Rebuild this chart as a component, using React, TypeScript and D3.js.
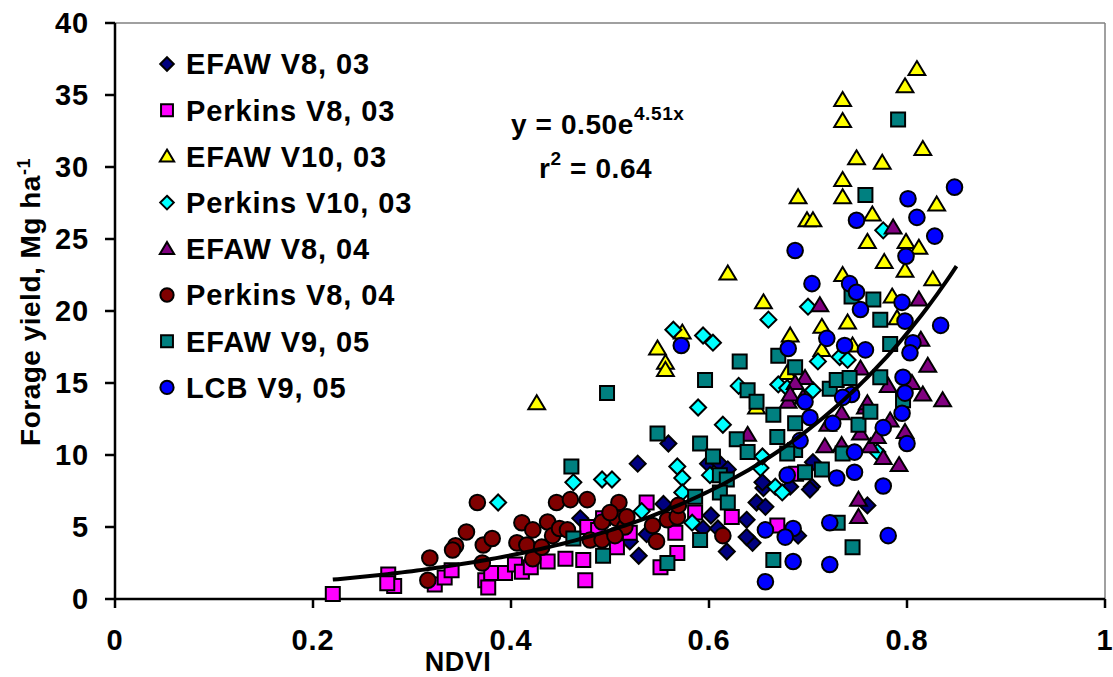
import React from 'react';
import * as d3 from 'd3';

type P = [number, number];

const efawV8_03: P[] = [[0.470,5.6],[0.528,9.4],[0.520,4.0],[0.529,3.0],[0.559,10.8],[0.599,9.4],[0.611,9.4],[0.602,5.8],[0.594,4.9],[0.618,3.3],[0.537,4.5],[0.554,6.6],[0.638,5.5],[0.644,3.9],[0.648,6.7],[0.655,7.7],[0.657,6.4],[0.638,4.3],[0.619,9.0],[0.682,7.8],[0.704,7.8],[0.609,4.9],[0.760,6.5],[0.690,4.4],[0.654,8.1],[0.705,9.5],[0.702,7.6]];

const perkinsV8_03: P[] = [[0.220,0.35],[0.276,1.7],[0.282,0.9],[0.275,1.1],[0.323,1.0],[0.333,1.5],[0.340,2.0],[0.374,1.3],[0.377,0.8],[0.380,1.8],[0.394,1.8],[0.404,2.4],[0.411,1.9],[0.420,2.2],[0.437,2.6],[0.455,2.8],[0.473,2.7],[0.475,1.3],[0.477,5.0],[0.488,4.8],[0.493,5.6],[0.507,3.6],[0.520,4.6],[0.537,6.7],[0.566,4.6],[0.568,3.2],[0.551,2.2],[0.586,6.0],[0.623,5.7],[0.669,5.1],[0.688,8.7]];

const efawV10_03: P[] = [[0.426,13.6],[0.548,17.4],[0.556,16.4],[0.556,15.9],[0.573,18.5],[0.619,22.6],[0.655,20.6],[0.648,13.3],[0.679,15.7],[0.690,27.9],[0.699,26.3],[0.705,26.3],[0.735,29.1],[0.735,27.9],[0.735,34.65],[0.735,33.2],[0.749,30.6],[0.775,30.3],[0.798,35.6],[0.810,36.8],[0.816,31.25],[0.760,24.8],[0.765,26.7],[0.830,27.4],[0.735,22.5],[0.740,19.2],[0.714,18.9],[0.682,18.3],[0.714,17.3],[0.745,17.6],[0.799,24.8],[0.777,23.4],[0.798,22.8],[0.785,21.0],[0.790,19.5],[0.826,22.2],[0.812,24.4]];

const perkinsV10_03: P[] = [[0.387,6.7],[0.463,8.1],[0.492,8.3],[0.502,8.3],[0.532,6.1],[0.564,18.7],[0.594,18.3],[0.604,17.8],[0.589,13.3],[0.614,12.1],[0.568,9.2],[0.573,8.4],[0.573,7.4],[0.583,5.3],[0.601,8.6],[0.630,14.8],[0.652,9.1],[0.654,9.9],[0.667,7.8],[0.674,7.4],[0.770,10.2],[0.660,19.4],[0.700,20.3],[0.710,16.5],[0.732,16.8],[0.740,16.6],[0.705,14.5],[0.670,14.9],[0.679,14.65],[0.776,25.6]];

const efawV8_04: P[] = [[0.639,11.4],[0.680,13.7],[0.697,15.35],[0.687,15.0],[0.682,14.2],[0.695,14.0],[0.712,20.4],[0.734,12.9],[0.720,12.1],[0.717,10.6],[0.734,10.7],[0.753,16.0],[0.758,13.3],[0.753,11.5],[0.751,6.9],[0.751,5.7],[0.763,10.6],[0.776,9.8],[0.792,9.3],[0.760,13.6],[0.783,12.4],[0.770,11.25],[0.786,25.8],[0.812,20.8],[0.814,18.0],[0.821,16.2],[0.836,13.8],[0.816,14.2],[0.798,11.6],[0.805,15.0],[0.781,14.8]];

const perkinsV8_04: P[] = [[0.316,1.3],[0.318,2.85],[0.344,3.7],[0.341,3.4],[0.355,4.65],[0.366,6.7],[0.372,3.75],[0.381,4.2],[0.371,2.5],[0.406,3.9],[0.411,5.3],[0.422,4.8],[0.416,3.75],[0.422,2.8],[0.437,5.35],[0.442,4.4],[0.446,6.7],[0.460,6.9],[0.477,6.9],[0.449,4.9],[0.457,4.8],[0.431,3.6],[0.480,4.1],[0.492,5.35],[0.492,4.1],[0.509,6.7],[0.507,5.6],[0.515,5.0],[0.500,6.0],[0.505,4.4],[0.517,5.7],[0.543,5.1],[0.558,5.5],[0.568,5.7],[0.547,4.0],[0.614,4.4],[0.569,6.5]];

const efawV9_05: P[] = [[0.461,9.2],[0.463,4.2],[0.497,14.3],[0.493,3.0],[0.548,11.5],[0.591,10.8],[0.596,15.2],[0.604,9.9],[0.628,11.1],[0.631,16.5],[0.558,2.5],[0.591,4.1],[0.586,7.1],[0.611,8.6],[0.618,8.3],[0.611,7.4],[0.619,6.7],[0.639,10.2],[0.639,14.5],[0.648,13.7],[0.665,12.8],[0.669,11.25],[0.687,12.2],[0.687,10.35],[0.697,8.8],[0.714,9.0],[0.730,5.3],[0.745,3.6],[0.665,2.7],[0.751,12.1],[0.670,16.9],[0.687,16.1],[0.722,14.6],[0.729,15.2],[0.742,15.35],[0.679,10.1],[0.735,10.1],[0.758,28.05],[0.744,21.0],[0.791,33.3],[0.766,20.8],[0.773,19.4],[0.783,17.7],[0.796,13.8],[0.773,15.4],[0.763,13.0]];

const lcbV9_05: P[] = [[0.572,17.6],[0.657,4.8],[0.657,1.2],[0.679,8.6],[0.729,8.4],[0.747,8.8],[0.747,10.2],[0.725,12.2],[0.776,11.9],[0.795,12.9],[0.776,7.85],[0.722,5.3],[0.781,4.4],[0.685,4.9],[0.677,4.3],[0.685,2.6],[0.722,2.4],[0.692,11.0],[0.702,12.6],[0.800,10.8],[0.697,13.7],[0.753,20.1],[0.680,17.4],[0.719,18.1],[0.737,17.6],[0.758,17.3],[0.744,14.2],[0.735,14.0],[0.749,26.3],[0.687,24.2],[0.704,21.9],[0.742,21.9],[0.749,21.3],[0.848,28.6],[0.801,27.8],[0.810,26.5],[0.828,25.2],[0.799,23.8],[0.795,20.6],[0.834,19.0],[0.798,19.3],[0.806,17.8],[0.803,17.1],[0.796,15.4],[0.798,14.3]];

const seriesNames = ['EFAW V8, 03','Perkins V8, 03','EFAW V10, 03','Perkins V10, 03','EFAW V8, 04','Perkins V8, 04','EFAW V9, 05','LCB V9, 05'];
const seriesData = [efawV8_03, perkinsV8_03, efawV10_03, perkinsV10_03, efawV8_04, perkinsV8_04, efawV9_05, lcbV9_05];
const seriesShapes = ['diamond','square','triangle','diamond','triangle','circle','square','circle'];
const seriesColors = ['#000080','#FF00FF','#FFFF00','#00FFFF','#800080','#800000','#008080','#0000FF'];

const xTicks = [0, 0.2, 0.4, 0.6, 0.8, 1];
const xTickLabels = ['0','0.2','0.4','0.6','0.8','1'];
const yTicks = [0, 5, 10, 15, 20, 25, 30, 35, 40];

const fitA = 0.5;
const fitB = 4.51;
const fitFrom = 0.22;
const fitTo = 0.85;

const FONT = "'Liberation Sans', Arial, sans-serif";

function shapePath(shape: string, s: number): string {
  switch (shape) {
    case 'diamond': { const h = 8 * s; return `M0,${-h}L${h},0L0,${h}L${-h},0Z`; }
    case 'square': { const h = 7 * s; return `M${-h},${-h}H${h}V${h}H${-h}Z`; }
    case 'triangle': { const h = 8 * s; return `M0,${-h}L${h * 1.05},${h * 0.75}L${-h * 1.05},${h * 0.75}Z`; }
    default: return '';
  }
}

function Marker({ shape, color, cx, cy, s = 1 }: { shape: string; color: string; cx: number; cy: number; s?: number }) {
  if (shape === 'circle') {
    return <circle cx={cx} cy={cy} r={7.8 * s} fill={color} stroke="#000" strokeWidth={2} />;
  }
  return <path d={shapePath(shape, s)} transform={`translate(${cx},${cy})`} fill={color} stroke="#000" strokeWidth={2} strokeLinejoin="miter" />;
}

export default function App() {
  const W = 1113, H = 677;
  const x = d3.scaleLinear().domain([0, 1]).range([115, 1105]);
  const y = d3.scaleLinear().domain([0, 40]).range([599, 23]);

  const fitPts = d3.range(fitFrom, fitTo + 1e-9, 0.005).map((v) => [v, fitA * Math.exp(fitB * v)] as P);
  const line = d3.line<P>().x((d) => x(d[0])).y((d) => y(d[1])).curve(d3.curveLinear);

  const LS = 0.9;

  return (
    <svg width={W} height={H} style={{ position: 'absolute', left: 0, top: 0, background: '#fff' }} fontFamily={FONT} fontWeight="bold">
      <rect x={0} y={0} width={W} height={H} fill="#fff" />
      {/* frame */}
      <line x1={x(0)} x2={x(1)} y1={y(40)} y2={y(40)} stroke="#808080" strokeWidth={1.5} />
      <line x1={x(1)} x2={x(1)} y1={y(40)} y2={y(0)} stroke="#808080" strokeWidth={1.5} />
      {/* y axis */}
      <line x1={x(0)} x2={x(0)} y1={y(40)} y2={y(0)} stroke="#000" strokeWidth={2.5} />
      {yTicks.map((t) => (
        <g key={'yt' + t}>
          <line x1={x(0) - 10} x2={x(0)} y1={y(t)} y2={y(t)} stroke="#000" strokeWidth={2.5} />
          <text x={89} y={y(t)} dy="0.36em" textAnchor="end" fontSize={29} letterSpacing={LS} fill="#000">{t}</text>
        </g>
      ))}
      {/* x axis */}
      <line x1={x(0)} x2={x(1)} y1={y(0)} y2={y(0)} stroke="#000" strokeWidth={2.5} />
      {xTicks.map((t, i) => (
        <g key={'xt' + t}>
          <line x1={x(t)} x2={x(t)} y1={y(0)} y2={y(0) + 9} stroke="#000" strokeWidth={2.5} />
          <text x={x(t)} y={640} dy="0.36em" textAnchor="middle" fontSize={29} letterSpacing={LS} fill="#000">{xTickLabels[i]}</text>
        </g>
      ))}
      <text x={458} y={661} dy="0.36em" textAnchor="middle" fontSize={27} letterSpacing={0.5} fill="#000">NDVI</text>
      <text transform="translate(30,302) rotate(-90)" textAnchor="middle" dy="0.36em" fontSize={28} letterSpacing={0.5} fill="#000">
        Forage yield, Mg ha<tspan dy="-10" fontSize={18}>-1</tspan>
      </text>

      {/* points */}
      {seriesData.map((data, si) => (
        <g key={'s' + si}>
          {data.map((d, i) => (
            <Marker key={i} shape={seriesShapes[si]} color={seriesColors[si]} cx={x(d[0])} cy={y(d[1])} />
          ))}
        </g>
      ))}

      {/* fit */}
      <path d={line(fitPts) || ''} fill="none" stroke="#000" strokeWidth={4} />

      {/* equation */}
      <text x={511} y={134} fontSize={28} letterSpacing={0.6} fill="#000">y = 0.50e<tspan dy="-14" fontSize={19}>4.51x</tspan></text>
      <text x={539} y={178} fontSize={28} letterSpacing={0.6} fill="#000">r<tspan dy="-13" fontSize={19}>2</tspan><tspan dy="13"> = 0.64</tspan></text>

      {/* legend */}
      {seriesNames.map((n, i) => (
        <g key={'lg' + i} transform={`translate(0,${64 + i * 46.2})`}>
          <Marker shape={seriesShapes[i]} color={seriesColors[i]} cx={167} cy={0} s={0.85} />
          <text x={186} y={0} dy="0.36em" fontSize={29} letterSpacing={LS} fill="#000">{n}</text>
        </g>
      ))}
    </svg>
  );
}
